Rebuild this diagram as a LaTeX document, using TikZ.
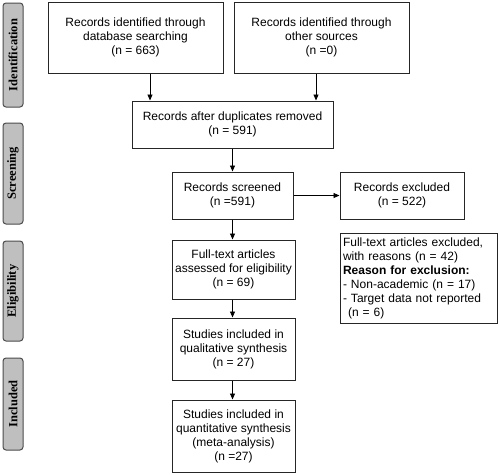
\documentclass[tikz,border=0pt]{standalone}
\usepackage{fontspec}
\setmainfont{Liberation Sans}
\newfontfamily\serifb{Liberation Serif}
\usetikzlibrary{arrows.meta}
\begin{document}
\begin{tikzpicture}[x=1pt,y=-1pt,
  box/.style={draw=black!85, line width=1pt, inner sep=0pt, align=center,
    font=\fontsize{12}{14}\selectfont},
  side/.style={draw=black!70, fill=black!25, line width=1pt, rounded corners=3pt,
    inner sep=0pt, minimum height=20pt, rotate=90,
    font=\serifb\bfseries\fontsize{12.5}{13}\selectfont},
  arr/.style={-{Triangle[length=6pt,width=5pt]}, line width=0.9pt, black}]
\useasboundingbox (0,0) rectangle (500,474);
\fill[white] (0,0) rectangle (500,474);
% side labels
\node[side, minimum width=104pt] (sid) at (13,55) {Identification};
\node[side, minimum width=101pt] (ssc) at (13,173.5) {Screening};
\node[side, minimum width=100pt] (sel) at (13,291) {Eligibility};
\node[side, minimum width=92pt] (sin) at (13,404) {Included};
% boxes
\node[box, minimum width=175pt, minimum height=71pt] (b1) at (135.5,37.5)
  {Records identified through\\database searching\\(n = 663)};
\node[box, minimum width=175pt, minimum height=71pt] (b2) at (321.5,37.5)
  {Records identified through\\other sources\\(n =0)};
\node[box, minimum width=201pt, minimum height=47pt] (b3) at (232.5,124.5)
  {Records after duplicates removed\\(n = 591)};
\node[box, minimum width=121pt, minimum height=47pt] (b4) at (232.5,195.5)
  {Records screened\\(n =591)};
\node[box, minimum width=124pt, minimum height=47pt] (b5) at (402,195.5)
  {Records excluded\\(n = 522)};
\node[box, minimum width=123pt, minimum height=59pt] (b6) at (233.5,269.5)
  {Full-text articles\\assessed for eligibility\\(n = 69)};
\node[box, minimum width=123pt, minimum height=62pt] (b7) at (233.5,349)
  {Studies included in\\qualitative synthesis\\(n = 27)};
\node[box, minimum width=123pt, minimum height=72pt] (b8) at (233.5,436)
  {Studies included in\\quantitative synthesis\\(meta-analysis)\\(n =27)};
\node[box, minimum width=157pt, minimum height=90pt, align=left, text width=151pt] (b9) at (418.5,278)
  {Full-text articles excluded,\\with reasons (n = 42)\\\textbf{Reason for exclusion:}\\- Non-academic (n = 17)\\- Target data not reported\\\hspace*{5pt}(n = 6)};
% arrows
\draw[arr] ([xshift=14.5pt]b1.south) -- ([xshift=14.5pt]b1.south |- b3.north);
\draw[arr] ([xshift=-5.5pt]b2.south) -- ([xshift=-5.5pt]b2.south |- b3.north);
\draw[arr] (b3.south) -- (b3.south |- b4.north);
\draw[arr] (b4.east) -- (b5.west);
\draw[arr] (b4.south) -- (b4.south |- b6.north);
\draw[arr] (b4.south |- b6.south) -- (b4.south |- b7.north);
\draw[arr] (b4.south |- b7.south) -- (b4.south |- b8.north);
\end{tikzpicture}
\end{document}
